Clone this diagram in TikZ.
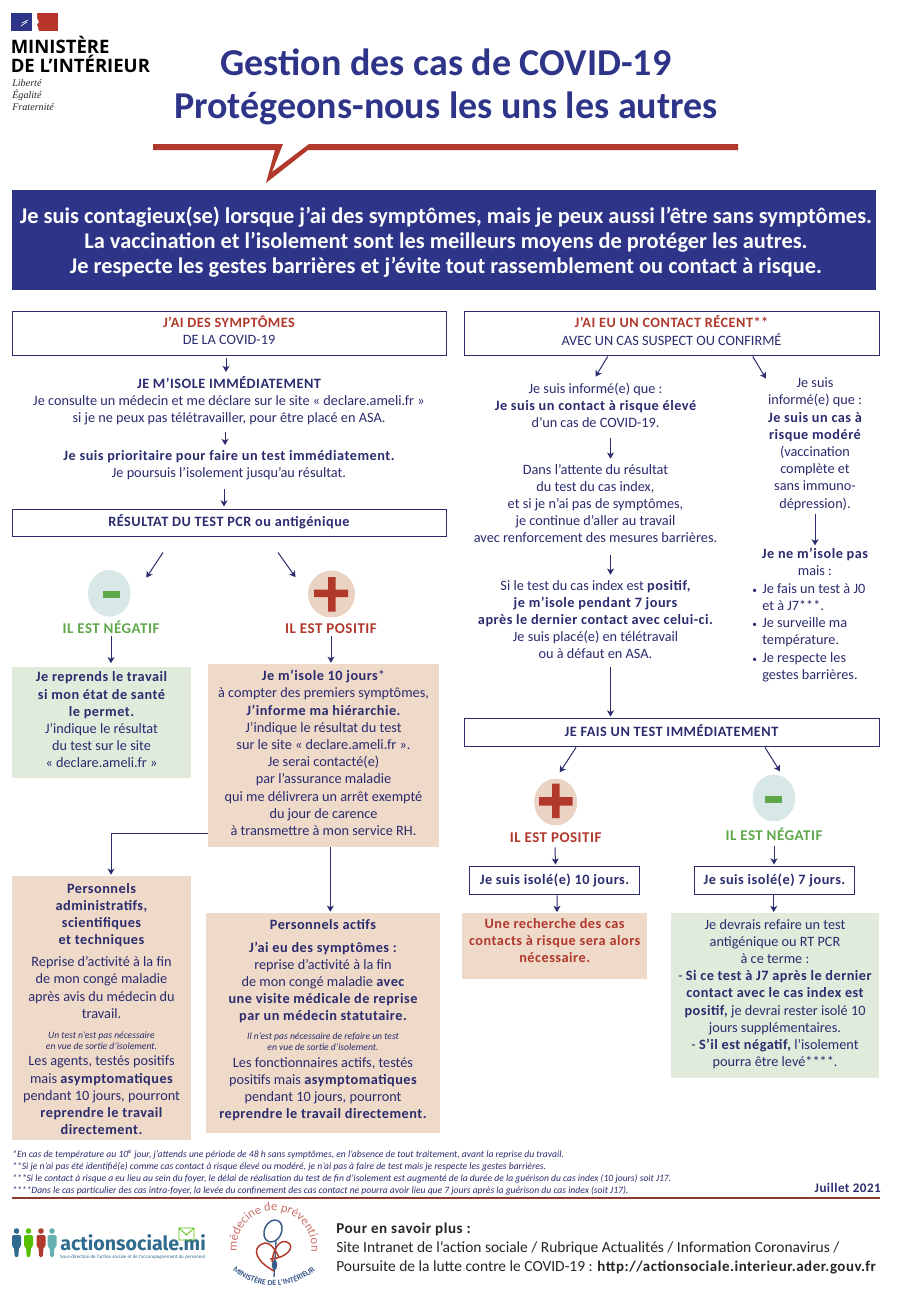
\documentclass[tikz,border=0pt]{standalone}
\usepackage{fontspec}
\setmainfont{Carlito}
\newfontfamily\tbfam{Carlito}[LetterSpace=3.5]
\newfontfamily\logofont{Open Sans}
\newfontfamily\devisefont{Liberation Serif}
\newfontfamily\asfont{Fira Sans}
\usetikzlibrary{arrows.meta,shapes.geometric,decorations.text,calc}
\definecolor{ink}{HTML}{2A2C6E}
\definecolor{banblue}{HTML}{2E3589}
\definecolor{redc}{HTML}{B0392C}
\definecolor{greenc}{HTML}{5FA84A}
\definecolor{peachc}{HTML}{EFD9C9}
\definecolor{mintc}{HTML}{E1EBDC}
\definecolor{paleg}{HTML}{D8E8E6}
\definecolor{palep}{HTML}{EBD3C3}
\definecolor{asblue}{HTML}{2F6B8E}
\definecolor{medred}{HTML}{C9706A}
\definecolor{medblue}{HTML}{3A5A8A}
\definecolor{rulec}{HTML}{8B3A2E}
\newcommand{\tb}[1]{{\tbfam\bfseries #1}}
\newcommand{\rc}[1]{\textcolor{redc}{#1}}
\newcommand{\smit}[1]{{\itshape\fontsize{7.2}{8}\selectfont #1}}
\newcommand{\dnpad}[1]{\rule[-#1]{0pt}{#1}}
\newcommand{\tinybullet}{\llap{{\fontsize{7}{7}\selectfont •}\hspace{4pt}}}
\newcommand{\figperson}[2]{%
  \fill[#2] (#1+4.5,1231) circle[radius=2.1pt];
  \fill[#2,rounded corners=1pt] (#1,1235) -- (#1+9,1235) -- (#1+9,1247) -- (#1+7,1247) -- (#1+6.3,1257) -- (#1+2.7,1257) -- (#1+2,1247) -- (#1,1247) -- cycle;}
\tikzset{
  x=0.75pt,y=-0.75pt,
  txt/.style={font=\fontsize{10.7}{12.9}\selectfont,text=ink,align=center,inner sep=0pt,
    execute at begin node={\rule{0pt}{10.5pt}},execute at end node=\strut},
  framebox/.style={txt,draw=ink,line width=0.7pt,fill=white,minimum height=#1},
  fillbox/.style={txt,fill=#1},
  arr/.style={ink,line width=0.75pt,-{Stealth[length=4.6pt,width=5.2pt,inset=1.2pt]}},
  lab/.style={txt,font=\tbfam\bfseries\fontsize{11.2}{12.9}\selectfont},
  foot/.style={font=\itshape\fontsize{7.2}{9}\selectfont,text=ink,anchor=west,inner sep=0pt},
  info/.style={font=\fontsize{11.6}{13}\selectfont,text=black!85,anchor=west,inner sep=0pt},
}
\begin{document}
\begin{tikzpicture}
\useasboundingbox (0,0) rectangle (898,1290);
\fill[white] (0,0) rectangle (898,1290);

% --- logo
\fill[banblue] (11,13) rectangle (32,31);
\fill[redc!90!red] (37,13) rectangle (58,31);
\fill[white] (32,13) -- (37,13) -- (37,18) -- (39,22) -- (37,24) -- (39,31) -- (32,31) -- cycle;
\draw[white,line width=0.5pt] (21,26) -- (27,22) (22,23) -- (28,20);
\node[font=\logofont\bfseries\fontsize{13.9}{13.9}\selectfont,align=left,anchor=north west,inner sep=0pt,text=black] (minist) at (10.5,36) {MINISTÈRE\\DE L’INTÉRIEUR};
\node[font=\devisefont\itshape\fontsize{7.6}{8.9}\selectfont,align=left,anchor=north west,inner sep=0pt,text=black!85] (devise) at (12,79.5) {Liberté\\Égalité\\Fraternité};

% --- title
\node[font=\bfseries\fontsize{28.5}{32.3}\selectfont,text=banblue,align=center,inner sep=0pt] (title) at (446,87) {Gestion des cas de COVID-19\\Protégeons-nous les uns les autres};
\fill[redc] (153,144) -- (283,144) -- (272,172) -- (309,144) -- (738,144) -- (738,150) -- (308,150) -- (266,183) -- (275,150) -- (153,150) -- cycle;

% --- banner
\node[fill=banblue,text=white,font=\bfseries\fontsize{16.8}{18.7}\selectfont,align=center,minimum width=648pt,minimum height=75pt,inner sep=0pt] (banner) at (444,240) {\rule{0pt}{15pt}\hspace*{3pt}Je suis contagieux(se) lorsque j’ai des symptômes, mais je peux aussi l’être sans symptômes.\\\hspace*{3pt}La vaccination et l’isolement sont les meilleurs moyens de protéger les autres.\\\hspace*{3pt}Je respecte les gestes barrières et j’évite tout rassemblement ou contact à risque.};

% --- left column
\node[framebox=33pt,minimum width=325.5pt] (hdrL) at (229,333) {\tb{\rc{J’AI DES SYMPTÔMES}}\\DE LA COVID-19};
\node[txt] (t1) at (229,402) {\tb{JE M’ISOLE IMMÉDIATEMENT}\\Je consulte un médecin et me déclare sur le site « declare.ameli.fr »\\si je ne peux pas télétravailler, pour être placé en ASA.};
\node[txt] (t2) at (229,466.5) {\tb{Je suis prioritaire pour faire un test immédiatement.}\\Je poursuis l’isolement jusqu’au résultat.};
\node[framebox=20.25pt,minimum width=325.5pt] (res) at (229,522.5) {\tb{RÉSULTAT DU TEST PCR ou antigénique}};

\node[ellipse,fill=paleg,minimum width=32pt,minimum height=35pt,inner sep=0pt] (minus1) at (109.3,593.3) {};
\fill[greenc] (103,591) rectangle (120,598);
\node[ellipse,fill=palep,minimum width=35.2pt,minimum height=35.2pt,inner sep=0pt] (plus1) at (331.5,594) {};
\fill[redc] (314,589.5) rectangle (348,597) (328,577) rectangle (335.5,611.5);
\node[lab,text=greenc] (neg1) at (111,629) {IL EST NÉGATIF};
\node[lab,text=redc] (pos1) at (331,629) {IL EST POSITIF};

\node[fillbox=mintc,minimum width=134.25pt,minimum height=83.25pt] (gbox) at (101.5,722.5) {\tb{Je reprends le travail}\\\tb{si mon état de santé}\\\tb{le permet.}\\J’indique le résultat\\du test sur le site\\« declare.ameli.fr »};
\node[fillbox=peachc,minimum width=173.25pt,minimum height=137.25pt] (pk) at (323.5,755.5) {\tb{Je m’isole 10 jours}*\\à compter des premiers symptômes,\\\tb{J’informe ma hiérarchie.}\\J’indique le résultat du test\\sur le site « declare.ameli.fr ».\\Je serai contacté(e)\\par l’assurance maladie\\qui me délivrera un arrêt exempté\\du jour de carence\\à transmettre à mon service RH.};

\node[fillbox=peachc,minimum width=134.25pt,minimum height=198pt] (adm) at (101.5,1008) {\rule{0pt}{12.75pt}\tb{Personnels}\\\tb{administratifs,}\\\tb{scientifiques}\\\tb{et techniques}\\[3.6pt]Reprise d’activité à la fin\\de mon congé maladie\\après avis du médecin du\\travail.\\[2.1pt]\smit{Un test n’est pas nécessaire}\\[-4.65pt]\smit{en vue de sortie d’isolement.}\\[-0.5pt]Les agents, testés positifs\\mais \tb{asymptomatiques}\\pendant 10 jours, pourront\\\tb{reprendre le travail}\\\tb{directement.}};
\node[fillbox=peachc,minimum width=175.5pt,minimum height=165pt] (act) at (323,1023) {\tb{Personnels actifs}\\[4.35pt]\tb{J’ai eu des symptômes :}\\reprise d’activité à la fin\\de mon congé maladie \tb{avec}\\\tb{une visite médicale de reprise}\\\tb{par un médecin statutaire.}\\[1.35pt]\smit{Il n’est pas nécessaire de refaire un test}\\[-4.65pt]\smit{en vue de sortie d’isolement.}\\[-0.5pt]Les fonctionnaires actifs, testés\\positifs mais \tb{asymptomatiques}\\pendant 10 jours, pourront\\\tb{reprendre le travail directement.}\dnpad{6pt}};

% --- right column
\node[framebox=33pt,minimum width=311.25pt] (hdrR) at (671.5,333) {\tb{\rc{J’AI EU UN CONTACT RÉCENT**}}\\AVEC UN CAS SUSPECT OU CONFIRMÉ};
\node[txt] (t3) at (595.5,408) {Je suis informé(e) que :\\\tb{Je suis un contact à risque élevé}\\d’un cas de COVID-19.};
\node[txt] (t4) at (595.5,506) {Dans l’attente du résultat\\du test du cas index,\\et si je n’ai pas de symptômes,\\je continue d’aller au travail\\avec renforcement des mesures barrières.};
\node[txt] (t5) at (595.5,622) {Si le test du cas index est \tb{positif,}\\\tb{je m’isole pendant 7 jours}\\\tb{après le dernier contact avec celui-ci.}\\Je suis placé(e) en télétravail\\ou à défaut en ASA.};
\node[txt] (tr) at (815,445.5) {Je suis\\informé(e) que :\\\tb{Je suis un cas à}\\\tb{risque modéré}\\(vaccination\\complète et\\sans immuno-\\dépression).};
\node[txt] (trb) at (815,564) {\tb{Je ne m’isole pas}\\mais :};
\node[txt,align=left,anchor=west] (trl) at (762,634) {\tinybullet Je fais un test à J0\\et à J7***.\\\tinybullet Je surveille ma\\température.\\\tinybullet Je respecte les\\gestes barrières.};

\node[framebox=21pt,minimum width=311.25pt] (test) at (671.5,732) {\tb{JE FAIS UN TEST IMMÉDIATEMENT}};
\node[ellipse,fill=palep,minimum width=32.3pt,minimum height=35pt,inner sep=0pt] (plus2) at (555.7,802) {};
\fill[redc] (539,797) rectangle (572.5,805.5) (552,783.5) rectangle (559.5,818);
\node[ellipse,fill=paleg,minimum width=32pt,minimum height=35pt,inner sep=0pt] (minus2) at (774,798) {};
\fill[greenc] (765,796) rectangle (782,803);
\node[lab,text=redc] (pos2) at (555.7,838) {IL EST POSITIF};
\node[lab,text=greenc] (neg2) at (774,836) {IL EST NÉGATIF};
\node[framebox=21pt,minimum width=127.8pt] (iso10) at (554.5,880) {\tb{Je suis isolé(e) 10 jours.}};
\node[framebox=21pt,minimum width=120.3pt] (iso7) at (774.5,880) {\tb{Je suis isolé(e) 7 jours.}};
\node[fillbox=peachc,minimum width=138.5pt,minimum height=49pt] (res10) at (554.7,946) {\textcolor{redc}{\tb{Une recherche des cas}}\\\textcolor{redc}{\tb{contacts à risque sera alors}}\\\textcolor{redc}{\tb{nécessaire.}}\dnpad{8.37pt}};
\node[fillbox=mintc,minimum width=155.8pt,minimum height=123.3pt] (green2) at (775,995.5) {Je devrais refaire un test\\antigénique ou RT PCR\\à ce terme :\\- \tb{Si ce test à J7 après le dernier}\\\tb{contact avec le cas index est}\\\tb{positif,} je devrai rester isolé 10\\jours supplémentaires.\\- \tb{S’il est négatif,} l’isolement\\pourra être levé****.};

% --- connectors
\draw[arr] ([shift={(-3,3)}]hdrL.south) -- ([shift={(-3,-4)}]t1.north);
\draw[arr] ([shift={(-4,3.5)}]t1.south) -- ([shift={(-4,-5)}]t2.north);
\draw[arr] ([shift={(-5,6.5)}]t2.south) -- ([shift={(-5,-2)}]res.north);
\draw[arr] ([shift={(-66,16)}]res.south) -- ([shift={(37,8)}]minus1.north);
\draw[arr] ([shift={(49,16)}]res.south) -- ([shift={(-36,7)}]plus1.north);
\draw[arr] ([shift={(0,-2.5)}]neg1.south) -- ([shift={(9.5,-3.5)}]gbox.north);
\draw[arr] ([shift={(0,-2.5)}]pos1.south) -- ([shift={(7.5,-1)}]pk.north);
\draw[arr] ([shift={(0,77.5)}]pk.west) -| ([shift={(9.5,-1)}]adm.north);
\draw[arr] ([shift={(6.8,0)}]pk.south) -- ([shift={(7.3,-1)}]act.north);
\draw[arr] ([shift={(-63.8,1)}]hdrR.south) -- ([shift={(0,-6)}]t3.north);
\draw[arr] ([shift={(81.2,1)}]hdrR.south) -- ([shift={(-49,1)}]tr.north);
\draw[arr] ([shift={(15,4.5)}]t3.south) -- ([shift={(15,-5)}]t4.north);
\draw[arr] ([shift={(15,6.5)}]t4.south) -- ([shift={(15,-5)}]t5.north);
\draw[arr] ([shift={(15,2.5)}]t5.south) -- ([shift={(-61,-1)}]test.north);
\draw[arr] ([shift={(0,0.5)}]tr.south) -- ([shift={(0,-2)}]trb.north);
\draw[arr] ([shift={(-95.5,1)}]test.south) -- ([shift={(4,-6)}]plus2.north);
\draw[arr] ([shift={(93.5,1)}]test.south) -- ([shift={(6,-3)}]minus2.north);
\draw[arr] ([shift={(-0.7,-0.5)}]pos2.south) -- ([shift={(-0.2,-1)}]iso10.north -| pos2.south);
\draw[arr] ([shift={(0,0.5)}]neg2.south) -- ([shift={(-0.5,-1)}]iso7.north);
\draw[arr] ([shift={(2.5,1)}]iso10.south) -- ([shift={(2.3,-1)}]res10.north);
\draw[arr] ([shift={(-0.8,1)}]iso7.south) -- ([shift={(-1.3,-1)}]green2.north);

% --- footnotes
\node[foot] (f1) at (12,1155) {*En cas de température au 10\textsuperscript{e} jour, j’attends une période de 48 h sans symptômes, en l’absence de tout traitement, avant la reprise du travail.};
\node[foot] (f2) at (12,1167) {**Si je n’ai pas été identifié(e) comme cas contact à risque élevé ou modéré, je n’ai pas à faire de test mais je respecte les gestes barrières.};
\node[foot] (f3) at (12,1179) {***Si le contact à risque a eu lieu au sein du foyer, le délai de réalisation du test de fin d’isolement est augmenté de la durée de la guérison du cas index (10 jours) soit J17.};
\node[foot] (f4) at (12,1191) {****Dans le cas particulier des cas intra-foyer, la levée du confinement des cas contact ne pourra avoir lieu que 7 jours après la guérison du cas index (soit J17).};
\node[font=\tbfam\bfseries\fontsize{9.8}{11}\selectfont,text=ink,anchor=east,inner sep=0pt] (date) at (881,1188) {Juillet 2021};
\draw[rulec,line width=0.8pt] (12,1198) -- (880,1198);

% --- actionsociale logo
\figperson{12}{asblue}
\figperson{24}{green!55!yellow!75!black}
\figperson{36.5}{redc}
\figperson{47.5}{teal!60!white}
\node[font=\asfont\bfseries\fontsize{14.7}{16}\selectfont,text=asblue,anchor=west,inner sep=0pt] (astext) at (60,1243) {actionsociale.mi};
\node[font=\fontsize{3.75}{4}\selectfont,text=asblue,anchor=west,inner sep=0pt] (assub) at (60,1257) {Sous-direction de l’action sociale et de l’accompagnement du personnel};
\draw[green!55!yellow!75!black,line width=0.6pt] (179,1228) rectangle (194,1240) (179,1228) -- (186.5,1235) -- (194,1228);

% --- medecine de prevention logo
\path[decorate,decoration={text along path,text align={align=center},text={|\fontsize{9.4}{12}\selectfont\color{medred}|médecine de prévention}}] (274,1248) ++(215:28pt) arc[start angle=215,end angle=-35,radius=28pt];
\path[decorate,decoration={text along path,text align={align=center},text={|\bfseries\fontsize{6}{6}\selectfont\color{medblue}|MINISTÈRE DE L’INTÉRIEUR}}] (274,1223) ++(215:47pt) arc[start angle=215,end angle=325,radius=47pt];
\draw[medblue,line width=1.1pt,rotate around={-25:(273,1231)}] (273,1231) circle[x radius=6.4pt,y radius=8.6pt];
\draw[medblue,line width=1pt] (276,1241) -- (274,1277);
\fill[medblue] (274.5,1265) circle[x radius=2pt,y radius=4pt];
\draw[redc,line width=1.1pt] (274,1271) .. controls (257,1262) and (251,1249) .. (262,1244) .. controls (270,1240) and (275,1250) .. (279,1257);
\draw[redc,line width=1.1pt] (270,1259) .. controls (288,1258) and (296,1246) .. (287,1242) .. controls (279,1239) and (273,1250) .. (272,1262);

% --- more info
\node[info,font=\tbfam\bfseries\fontsize{11.3}{13}\selectfont] (plus) at (336,1229) {Pour en savoir plus :};
\node[info] (site1) at (336,1248) {Site Intranet de l’action sociale / Rubrique Actualités / Information Coronavirus /};
\node[info] (site2) at (336,1267) {Poursuite de la lutte contre le COVID-19 : \tb{\fontsize{11.2}{13}\selectfont http://actionsociale.interieur.ader.gouv.fr}};
\end{tikzpicture}
\end{document}
